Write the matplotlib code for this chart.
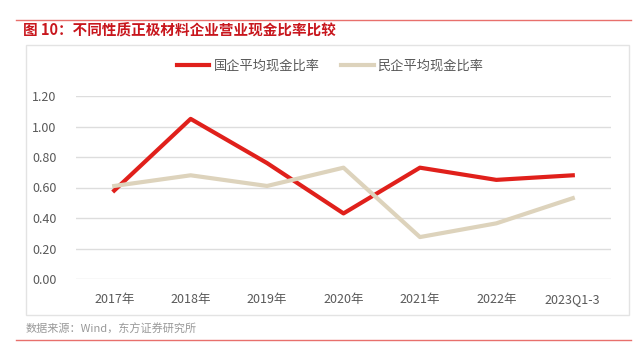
import matplotlib.pyplot as plt
from matplotlib.lines import Line2D
from matplotlib.patches import Rectangle

plt.rcParams['font.family'] = ['Noto Sans CJK SC', 'DejaVu Sans']

years = ['2017年', '2018年', '2019年', '2020年', '2021年', '2022年', '2023Q1-3']
state_owned = [0.58, 1.05, 0.76, 0.43, 0.73, 0.65, 0.68]
private = [0.61, 0.68, 0.61, 0.73, 0.275, 0.365, 0.53]

red = '#e0201b'
beige = '#ddd3bc'

fig = plt.figure(figsize=(6.4, 3.62), dpi=100)
W, H = 640, 362

# header / footer lines
fig.add_artist(Line2D([16 / W, 631 / W], [1 - 20 / H, 1 - 20 / H], color='#e8706c', lw=1))
fig.add_artist(Line2D([16 / W, 631 / W], [1 - 340 / H, 1 - 340 / H], color='#e8706c', lw=1))
fig.text(23 / W, 1 - 31 / H, '图 10：不同性质正极材料企业营业现金比率比较', color='#c8161d',
         fontsize=10.5, fontweight='bold', va='center')
fig.text(26 / W, 1 - 329 / H, '数据来源：Wind，东方证券研究所', color='#999999',
         fontsize=8, va='center')
fig.add_artist(Rectangle((26 / W, 1 - 315 / H), (629 - 26) / W, (315 - 45) / H,
                         fill=False, ec='#e3e3e3', lw=1))

ax = fig.add_axes([76 / W, 1 - 279 / H, (611 - 76) / W, (279 - 96) / H])
x = range(len(years))
ax.plot(x, state_owned, color=red, lw=3, label='国企平均现金比率')
ax.plot(x, private, color=beige, lw=3, label='民企平均现金比率')

ax.set_ylim(0, 1.2)
ax.set_xlim(-0.5, len(years) - 0.5)
ax.set_yticks([0, 0.2, 0.4, 0.6, 0.8, 1.0, 1.2])
ax.set_yticklabels(['%.2f' % v for v in ax.get_yticks()])
ax.set_xticks(list(x))
ax.set_xticklabels(years)
ax.grid(axis='y', color='#dddddd', lw=1)
ax.set_axisbelow(True)
for s in ax.spines.values():
    s.set_visible(False)
ax.tick_params(length=0, colors='#595959', labelsize=9)
ax.tick_params(axis='x', pad=10)
ax.tick_params(axis='y', pad=14)

fig.legend(loc='center', bbox_to_anchor=(330 / W, 1 - 66 / H), ncol=2, frameon=False,
           fontsize=9.5, labelcolor='#595959', handlelength=2.5, columnspacing=1.6,
           handletextpad=0.3)

fig.savefig('out.png', dpi=100)
